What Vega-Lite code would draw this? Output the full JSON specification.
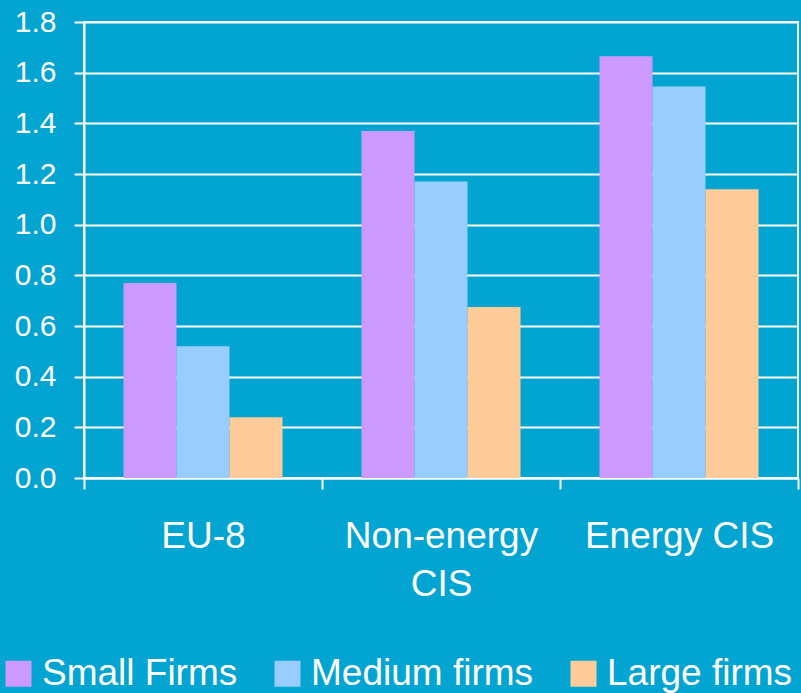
{
  "$schema": "https://vega.github.io/schema/vega-lite/v6.json",
  "width": 714,
  "height": 456,
  "autosize": "none",
  "padding": {"left": 84, "top": 22, "right": 3, "bottom": 215},
  "background": "#02A4D1",
  "config": {
    "font": "Liberation Sans",
    "view": {"stroke": "white", "strokeWidth": 2}
  },
  "data": {
    "values": [
      {"region": "EU-8", "size": "Small Firms", "value": 0.77},
      {"region": "EU-8", "size": "Medium firms", "value": 0.52},
      {"region": "EU-8", "size": "Large firms", "value": 0.24},
      {"region": "Non-energy CIS", "size": "Small Firms", "value": 1.37},
      {"region": "Non-energy CIS", "size": "Medium firms", "value": 1.17},
      {"region": "Non-energy CIS", "size": "Large firms", "value": 0.675},
      {"region": "Energy CIS", "size": "Small Firms", "value": 1.665},
      {"region": "Energy CIS", "size": "Medium firms", "value": 1.545},
      {"region": "Energy CIS", "size": "Large firms", "value": 1.14}
    ]
  },
  "mark": {"type": "bar"},
  "encoding": {
    "x": {
      "field": "region",
      "type": "nominal",
      "sort": ["EU-8", "Non-energy CIS", "Energy CIS"],
      "scale": {"paddingInner": 0, "paddingOuter": 0},
      "axis": {
        "title": null,
        "labelAngle": 0,
        "tickBand": "extent",
        "tickSize": 11,
        "tickWidth": 2,
        "tickColor": "white",
        "domainColor": "white",
        "domainWidth": 2,
        "labelColor": "white",
        "labelFontSize": 37,
        "labelPadding": 29,
        "labelLineHeight": 48,
        "labelLimit": 400,
        "labelExpr": "datum.label == 'Non-energy CIS' ? ['Non-energy', 'CIS'] : datum.label"
      }
    },
    "xOffset": {
      "field": "size",
      "type": "nominal",
      "sort": ["Small Firms", "Medium firms", "Large firms"],
      "scale": {"paddingInner": 0, "paddingOuter": 0.745}
    },
    "y": {
      "field": "value",
      "type": "quantitative",
      "scale": {"domain": [0, 1.8], "nice": false},
      "axis": {
        "title": null,
        "values": [0, 0.2, 0.4, 0.6, 0.8, 1.0, 1.2, 1.4, 1.6, 1.8],
        "format": ".1f",
        "labelColor": "white",
        "labelFontSize": 30,
        "labelPadding": 18,
        "tickColor": "white",
        "tickSize": 10,
        "tickWidth": 2,
        "domainColor": "white",
        "domainWidth": 2,
        "gridColor": "white",
        "gridWidth": 2,
        "gridOpacity": 1
      }
    },
    "color": {
      "field": "size",
      "type": "nominal",
      "sort": ["Small Firms", "Medium firms", "Large firms"],
      "scale": {
        "domain": ["Small Firms", "Medium firms", "Large firms"],
        "range": ["#CC99FF", "#99CCFF", "#FFCC99"]
      },
      "legend": {
        "title": null,
        "orient": "none",
        "legendX": -84,
        "legendY": 633,
        "padding": 0,
        "direction": "horizontal",
        "symbolType": "square",
        "symbolSize": 676,
        "symbolStrokeWidth": 0,
        "symbolOpacity": 1,
        "labelColor": "white",
        "labelFontSize": 37,
        "labelOffset": 5,
        "labelLimit": 400,
        "columnPadding": 31
      }
    }
  }
}
